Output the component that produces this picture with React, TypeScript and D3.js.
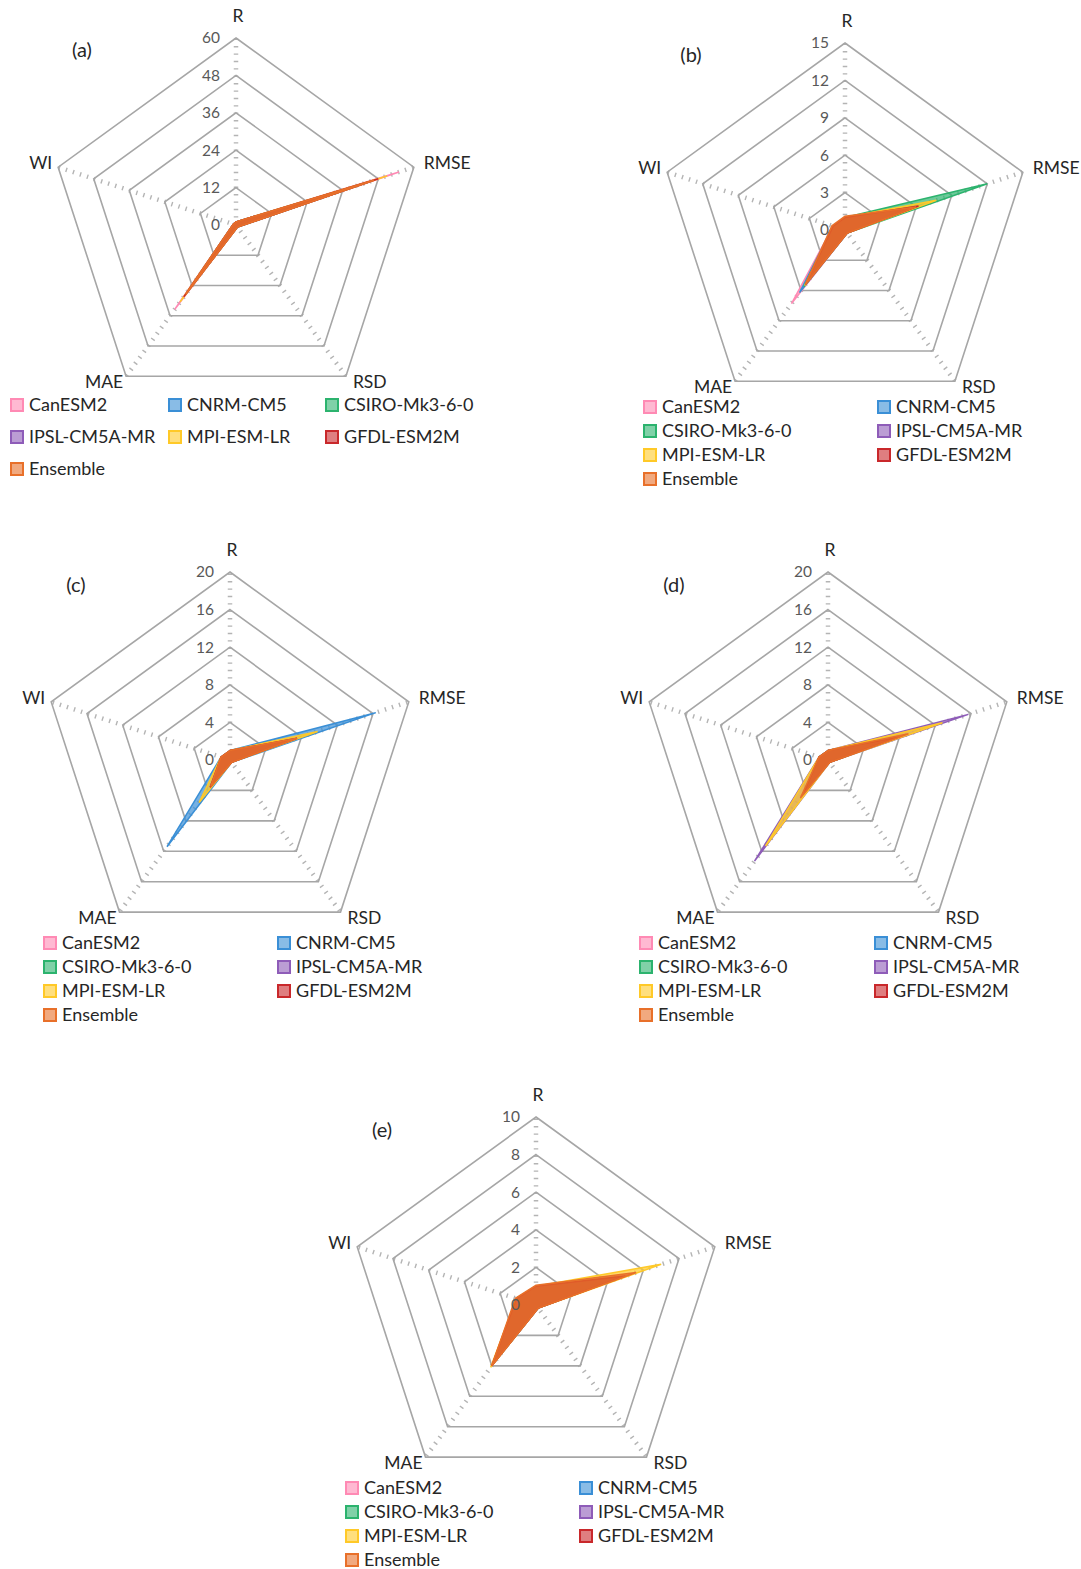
import * as React from "react"
import * as d3 from "d3"

// radar axes, clockwise from the top
const axes = ["R", "RMSE", "RSD", "MAE", "WI"]

const models = ["CanESM2", "CNRM-CM5", "CSIRO-Mk3-6-0", "IPSL-CM5A-MR", "MPI-ESM-LR", "GFDL-ESM2M", "Ensemble"]
const modelColors = ["#FF8AB4", "#3A8FD6", "#2CB36E", "#8E5CB8", "#FFC928", "#C9282B", "#E8702A"]

// values per model, order: R, RMSE, RSD, MAE, WI
const valuesA = [
    [1.0, 55, 0.8, 33.5, 0.9],
    [1.0, 45, 0.8, 27, 0.9],
    [1.0, 46, 0.8, 27.5, 0.9],
    [1.0, 46, 0.8, 27, 0.9],
    [1.0, 51, 0.8, 30.5, 0.9],
    [1.0, 48, 0.8, 28.5, 0.9],
    [1.0, 46.5, 0.8, 27.5, 0.9],
]
const valuesB = [
    [1.0, 6.5, 0.3, 7.3, 1.0],
    [1.0, 6.0, 0.3, 6.2, 1.0],
    [1.0, 12.0, 0.3, 5.6, 1.0],
    [1.0, 5.8, 0.3, 5.4, 1.0],
    [1.0, 7.7, 0.3, 5.5, 1.0],
    [1.0, 6.2, 0.3, 5.4, 1.0],
    [1.1, 6.0, 0.3, 5.4, 1.1],
]
const valuesC = [
    [1.0, 7.0, 0.3, 3.2, 1.0],
    [1.0, 16.3, 0.3, 11.4, 1.0],
    [1.0, 7.2, 0.3, 3.4, 1.0],
    [1.0, 6.8, 0.3, 3.0, 1.0],
    [1.0, 9.8, 0.3, 5.6, 1.0],
    [1.0, 7.5, 0.3, 3.6, 1.0],
    [1.0, 7.5, 0.3, 3.5, 1.0],
]
const valuesD = [
    [1.0, 8.0, 0.3, 4.0, 1.0],
    [1.0, 7.8, 0.3, 3.8, 1.0],
    [1.0, 8.2, 0.3, 4.2, 1.0],
    [1.0, 15.7, 0.3, 13.3, 1.0],
    [1.0, 12.8, 0.3, 11.3, 1.0],
    [1.0, 8.0, 0.3, 4.5, 1.0],
    [1.0, 9.0, 0.3, 5.0, 1.0],
]
const valuesE = [
    [1.0, 5.2, 0.2, 3.9, 1.1],
    [1.0, 4.8, 0.2, 3.8, 1.1],
    [1.0, 5.0, 0.2, 3.9, 1.1],
    [1.0, 5.1, 0.2, 3.8, 1.1],
    [1.0, 7.0, 0.2, 4.1, 1.1],
    [1.0, 5.0, 0.2, 4.0, 1.1],
    [1.05, 5.6, 0.2, 4.0, 1.15],
]

const ticksA = [0, 12, 24, 36, 48, 60]
const ticksB = [0, 3, 6, 9, 12, 15]
const ticksC = [0, 4, 8, 12, 16, 20]
const ticksD = [0, 4, 8, 12, 16, 20]
const ticksE = [0, 2, 4, 6, 8, 10]

const FONT = "Lato, 'Open Sans', sans-serif"

interface PanelSpec {
    label: string
    values: number[][]
    ticks: number[]
    cx: number
    cy: number
    radius: number
    legendCols: number[]
    legendRows: number[]
    ncols: number
}

const panels: PanelSpec[] = [
    { label: "(a)", values: valuesA, ticks: ticksA, cx: 236, cy: 225, radius: 187, legendCols: [10, 168, 325], legendRows: [405, 437, 469], ncols: 3 },
    { label: "(b)", values: valuesB, ticks: ticksB, cx: 845, cy: 230, radius: 187, legendCols: [643, 877], legendRows: [407, 431, 455, 479], ncols: 2 },
    { label: "(c)", values: valuesC, ticks: ticksC, cx: 230, cy: 760, radius: 188, legendCols: [43, 277], legendRows: [943, 967, 991, 1015], ncols: 2 },
    { label: "(d)", values: valuesD, ticks: ticksD, cx: 828, cy: 760, radius: 188, legendCols: [639, 874], legendRows: [943, 967, 991, 1015], ncols: 2 },
    { label: "(e)", values: valuesE, ticks: ticksE, cx: 536, cy: 1305, radius: 188, legendCols: [345, 579], legendRows: [1488, 1512, 1536, 1560], ncols: 2 },
]

function Radar({ p }: { p: PanelSpec }) {
    const n = axes.length
    const max = p.ticks[p.ticks.length - 1]
    const r = d3.scaleLinear().domain([0, max]).range([0, p.radius])
    const angle = (i: number) => (i * 2 * Math.PI) / n
    const pt = (i: number, v: number): [number, number] => [
        Math.sin(angle(i)) * r(v),
        -Math.cos(angle(i)) * r(v),
    ]

    const radial = d3.lineRadial<number>()
        .angle((_, i) => angle(i))
        .radius(d => r(d))
        .curve(d3.curveLinearClosed)

    const ring = (v: number) => radial(axes.map(() => v)) || ""

    // label placement around the outer pentagon
    const outer = axes.map((_, i) => pt(i, max))
    const labelPos = [
        { x: outer[0][0] + 2, y: outer[0][1] - 22, anchor: "middle" },
        { x: outer[1][0] + 10, y: outer[1][1] - 4, anchor: "start" },
        { x: outer[2][0] + 7, y: outer[2][1] + 6, anchor: "start" },
        { x: outer[3][0] - 3, y: outer[3][1] + 6, anchor: "end" },
        { x: outer[4][0] - 6, y: outer[4][1] - 4, anchor: "end" },
    ]

    return (
        <g>
            <g transform={`translate(${p.cx},${p.cy})`}>
                {/* dotted spokes */}
                {axes.map((a, i) => {
                    const [x, y] = pt(i, max)
                    return (
                        <line key={a} x1={0} y1={0} x2={x} y2={y}
                            stroke="#B4B4B4" strokeWidth={4.5} strokeDasharray="1.4,6" />
                    )
                })}
                {/* rings */}
                {p.ticks.slice(1).map(t => (
                    <path key={t} d={ring(t)} fill="none" stroke="#A6A6A6" strokeWidth={1.6} />
                ))}
                {/* series */}
                {p.values.map((vals, k) => (
                    <path key={models[k]} d={radial(vals) || ""}
                        fill={modelColors[k]} fillOpacity={0.7}
                        stroke={modelColors[k]} strokeWidth={1.5} strokeLinejoin="miter" />
                ))}
                {/* tick labels */}
                {p.ticks.map(t => (
                    <text key={t} x={-16} y={-r(t)} dy="0.35em" textAnchor="end"
                        fontSize={15.5} fill="#595959" fontFamily={FONT}>{t}</text>
                ))}
                {/* axis labels */}
                {axes.map((a, i) => (
                    <text key={a} x={labelPos[i].x} y={labelPos[i].y} dy="0.35em"
                        textAnchor={labelPos[i].anchor as any}
                        fontSize={17.5} fill="#262626" fontFamily={FONT}>{a}</text>
                ))}
                <text x={-154} y={-175} dy="0.35em" textAnchor="middle"
                    fontSize={20} fill="#262626" fontFamily={FONT}>{p.label}</text>
            </g>
            {/* legend */}
            {models.map((m, k) => {
                const col = k % p.ncols
                const row = Math.floor(k / p.ncols)
                const x = p.legendCols[col]
                const y = p.legendRows[row]
                return (
                    <g key={m} transform={`translate(${x},${y})`}>
                        <rect x={1} y={-6} width={12} height={12}
                            fill={modelColors[k]} fillOpacity={0.6}
                            stroke={modelColors[k]} strokeWidth={2} />
                        <text x={19} y={0} dy="0.35em" fontSize={18}
                            fill="#262626" fontFamily={FONT}>{m}</text>
                    </g>
                )
            })}
        </g>
    )
}

export default function App() {
    return (
        <svg width={1081} height={1569} viewBox="0 0 1081 1569"
            style={{ position: "absolute", left: 0, top: 0, background: "#fff" }}>
            <rect width={1081} height={1569} fill="#fff" />
            {panels.map(p => <Radar key={p.label} p={p} />)}
        </svg>
    )
}
